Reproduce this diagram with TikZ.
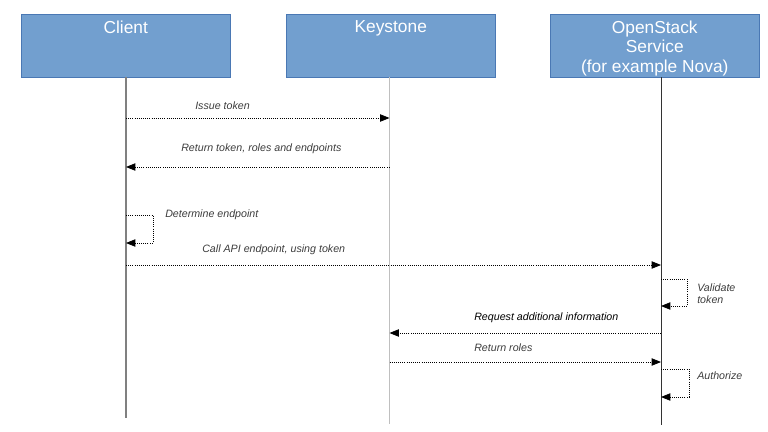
\documentclass[tikz,border=0pt]{standalone}
\usepackage{fontspec}
\setmainfont{Liberation Sans}
\usetikzlibrary{arrows.meta}
\definecolor{boxfill}{HTML}{729FCF}
\definecolor{boxline}{HTML}{4A78B4}
\definecolor{msgtext}{HTML}{3C3C3C}

\tikzset{
  actor/.style={draw=boxline, fill=boxfill, anchor=north west, inner sep=0pt,
    minimum width=156.75pt, minimum height=47.25pt},
  head/.style={anchor=north, inner sep=0pt, text=white, align=center,
    font=\fontsize{13}{14.6}\selectfont},
  msg/.style={anchor=west, inner sep=0pt, text=msgtext,
    font=\fontsize{8}{9}\selectfont\itshape, align=left},
  msgline/.style={densely dotted, line width=0.6pt, -{Triangle[length=7pt,width=5.5pt]}},
}

\begin{document}
\begin{tikzpicture}[x=0.75pt, y=-0.75pt]
  \useasboundingbox (0,0) rectangle (768,432);

  \def\xc{126}
  \def\xk{389.5}
  \def\xs{661}

  % participants
  \node[actor] (client)   at (21, 14) {};
  \node[actor] (keystone) at (286,14) {};
  \node[actor] (service)  at (550,14) {};
  \node[head] (clienttxt)   at ([yshift=-5pt]client.north)   {Client};
  \node[head] (keystonetxt) at ([yshift=-5pt]keystone.north) {Keystone};
  \node[head] (servicetxt)  at ([yshift=-5pt]service.north)
    {OpenStack\\Service\\(for example Nova)};

  % lifelines
  \coordinate (ctop) at (\xc,77);  \coordinate (cbot) at (\xc,418);
  \coordinate (ktop) at (\xk,77);  \coordinate (kbot) at (\xk,424);
  \coordinate (stop) at (\xs,77);  \coordinate (sbot) at (\xs,425);
  \draw[gray, line width=1.1pt] (ctop) -- (cbot);
  \draw[black!25, line width=1.1pt] (ktop) -- (kbot);
  \draw[black!80, line width=0.7pt] (stop) -- (sbot);

  % message end points
  \coordinate (c1) at (\xc,118);  \coordinate (k1) at (\xk,118);
  \coordinate (c2) at (\xc,167);  \coordinate (k2) at (\xk,167);
  \coordinate (c3) at (\xc,215);  \coordinate (c3r) at (153,215);
  \coordinate (c3b) at (153,243); \coordinate (c3e) at (\xc,243);
  \coordinate (c4) at (\xc,265);  \coordinate (s4) at (\xs,265);
  \coordinate (s5) at (\xs,279);  \coordinate (s5r) at (687,279);
  \coordinate (s5b) at (687,306); \coordinate (s5e) at (\xs,306);
  \coordinate (s6) at (\xs,333);  \coordinate (k6) at (\xk,333);
  \coordinate (k7) at (\xk,362);  \coordinate (s7) at (\xs,362);
  \coordinate (s8) at (\xs,369);  \coordinate (s8r) at (689,369);
  \coordinate (s8b) at (689,397); \coordinate (s8e) at (\xs,397);

  % messages
  \draw[msgline] (c1) -- (k1);
  \draw[msgline] (k2) -- (c2);
  \draw[msgline] (c3) -- (c3r) -- (c3b) -- (c3e);
  \draw[msgline] (c4) -- (s4);
  \draw[msgline] (s5) -- (s5r) -- (s5b) -- (s5e);
  \draw[msgline] (s6) -- (k6);
  \draw[msgline] (k7) -- (s7);
  \draw[msgline] (s8) -- (s8r) -- (s8b) -- (s8e);

  % labels
  \node[msg] (l1) at (195,106) {Issue token};
  \node[msg] (l2) at (181,149) {Return token, roles and endpoints};
  \node[msg] (l3) at (165,215) {Determine endpoint};
  \node[msg] (l4) at (202,250) {Call API endpoint, using token};
  \node[msg] (l5) at (697,294) {Validate\\token};
  \node[msg, text=black] (l6) at (474,318) {Request additional information};
  \node[msg] (l7) at (474,348) {Return roles};
  \node[msg] (l8) at (697,376) {Authorize};
\end{tikzpicture}
\end{document}
